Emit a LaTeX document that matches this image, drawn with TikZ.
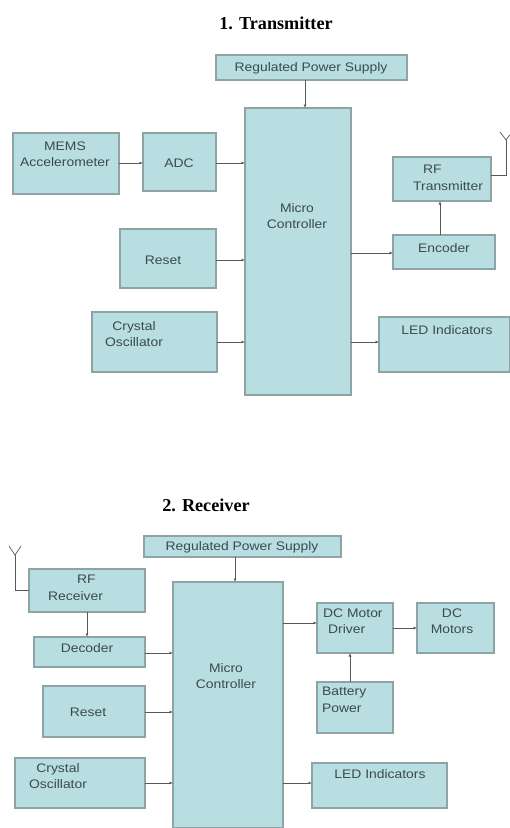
\documentclass[tikz,border=0pt]{standalone}
\usepackage{fontspec}
\setmainfont{Liberation Serif}
\newfontfamily\boxfont[FakeStretch=1.12]{Liberation Sans}
\usetikzlibrary{arrows.meta}
\definecolor{blkfill}{HTML}{B8DEE1}
\definecolor{blkdraw}{HTML}{8EA3A5}
\definecolor{txtcol}{HTML}{3A4B4E}
\definecolor{wirecol}{HTML}{555A5A}
\tikzset{
  blk/.style={draw=blkdraw, fill=blkfill, line width=1.1pt, inner sep=0pt, outer sep=0pt},
  txt/.style={inner sep=0pt, text=txtcol, font=\boxfont\fontsize{12.4}{16.5}\selectfont, align=center},
  txtl/.style={txt, align=left, anchor=west},
  ttl/.style={inner sep=0pt, font=\bfseries\fontsize{18.2}{20}\selectfont},
  arr/.style={draw=wirecol, line width=0.7pt, -{Latex[length=3.5pt,width=3pt]}},
  wire/.style={draw=wirecol, line width=0.7pt}
}
\newcommand\blk[5]{%
  \node[blk, minimum width={(#4-#2)*1pt}, minimum height={(#5-#3)*1pt}] (#1) at ({(#2+#4)/2},{(#3+#5)/2}) {};}
\begin{document}
\begin{tikzpicture}[x=1pt,y=-1pt]
\useasboundingbox (0,0) rectangle (510,828);
% ---------------- Transmitter ----------------
\node[ttl] (t1) at (276,23) {1. Transmitter};
\blk{rps1}{216}{55}{407}{80}
\node[txt] (rps1t) at (311,68) {Regulated Power Supply};
\blk{mc1}{245}{108}{351}{395}
\node[txt] (mc1t) at (297,216) {Micro\\Controller};
\blk{mems}{13}{133}{119}{194}
\node[txt] (memst) at (65,154) {MEMS\\Accelerometer};
\blk{adc}{143}{133}{216}{191}
\node[txt] (adct) at (179,163) {ADC};
\blk{rf1}{393}{157}{491}{201}
\node[txtl] (rf1t) at (413,178) {\hspace*{10pt}RF\\Transmitter};
\blk{enc}{393}{235}{495}{269}
\node[txt] (enct) at (444,248) {Encoder};
\blk{reset1}{120}{229}{216}{288}
\node[txt] (reset1t) at (163,260) {Reset};
\blk{crys1}{92}{312}{217}{372}
\node[txt] (crys1t) at (134,334) {Crystal\\Oscillator};
\blk{led1}{379}{317}{509.5}{372}
\node[txt] (led1t) at (447,330) {LED Indicators};
% connectors
\draw[arr] (rps1.south -| 305,0) -- (mc1.north -| 305,0);
\draw[arr] (mems.east |- 0,163) -- (adc.west |- 0,163);
\draw[arr] (adc.east |- 0,163) -- (mc1.west |- 0,163);
\draw[arr] (reset1.east |- 0,260) -- (mc1.west |- 0,260);
\draw[arr] (crys1.east |- 0,342) -- (mc1.west |- 0,342);
\draw[arr] (mc1.east |- 0,253) -- (enc.west |- 0,253);
\draw[arr] (enc.north -| 440,0) -- (rf1.south -| 440,0);
\draw[arr] (mc1.east |- 0,342) -- (led1.west |- 0,342);
\coordinate (ant1) at (506,140);
\coordinate (ant1a) at (500,132);
\coordinate (ant1b) at (512,132);
\draw[wire] (rf1.east |- 0,175) -| (ant1);
\draw[wire] (ant1a) -- (ant1) -- (ant1b);
% ---------------- Receiver ----------------
\node[ttl] (t2) at (206,505) {2. Receiver};
\blk{rps2}{144}{536}{341}{557}
\node[txt] (rps2t) at (242,547) {Regulated Power Supply};
\blk{mc2}{173}{582}{283}{828}
\node[txt] (mc2t) at (226,676) {Micro\\Controller};
\blk{rf2}{29}{569}{145}{612}
\node[txtl] (rf2t) at (48,588) {\hspace*{29pt}RF\\Receiver};
\blk{dec}{34}{637}{145}{667}
\node[txt] (dect) at (87,648) {Decoder};
\blk{reset2}{43}{686}{145}{737}
\node[txt] (reset2t) at (88,712) {Reset};
\blk{crys2}{15}{758}{145}{808}
\node[txt] (crys2t) at (58,776) {Crystal\\Oscillator};
\blk{drv}{317}{603}{393}{653}
\node[txtl] (drvt) at (323,621) {DC Motor\\\hspace*{5pt}Driver};
\blk{mot}{417}{603}{494}{653}
\node[txt] (mott) at (452,621) {DC\\Motors};
\blk{bat}{317}{682}{393}{733}
\node[txtl] (batt) at (322,700) {Battery\\Power};
\blk{led2}{312}{763}{447}{808}
\node[txt] (led2t) at (380,774) {LED Indicators};
% connectors
\draw[arr] (rps2.south -| 235,0) -- (mc2.north -| 235,0);
\draw[arr] (rf2.south -| 87,0) -- (dec.north -| 87,0);
\draw[arr] (dec.east |- 0,653) -- (mc2.west |- 0,653);
\draw[arr] (reset2.east |- 0,712) -- (mc2.west |- 0,712);
\draw[arr] (crys2.east |- 0,783) -- (mc2.west |- 0,783);
\draw[arr] (mc2.east |- 0,623) -- (drv.west |- 0,623);
\draw[arr] (drv.east |- 0,628) -- (mot.west |- 0,628);
\draw[arr] (bat.north -| 350,0) -- (drv.south -| 350,0);
\draw[arr] (mc2.east |- 0,783) -- (led2.west |- 0,783);
\coordinate (ant2) at (15,555);
\coordinate (ant2a) at (9,546);
\coordinate (ant2b) at (21,546);
\draw[wire] (rf2.west |- 0,590) -| (ant2);
\draw[wire] (ant2a) -- (ant2) -- (ant2b);
\end{tikzpicture}
\end{document}
